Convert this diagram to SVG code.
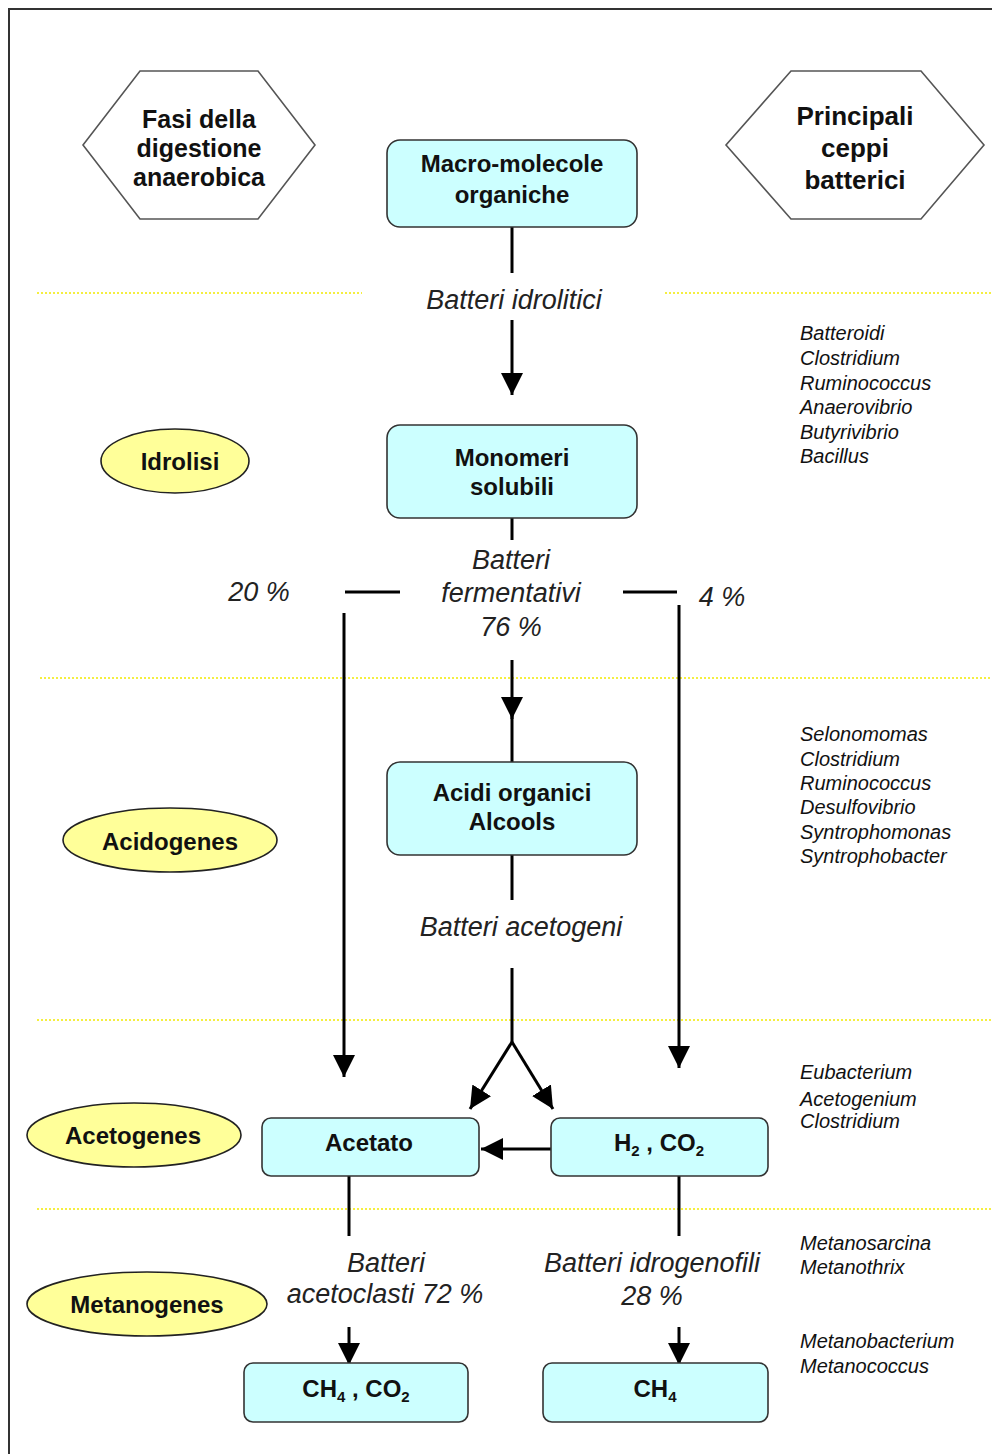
<svg xmlns="http://www.w3.org/2000/svg" width="992" height="1454" viewBox="0 0 992 1454">
<defs>
<style>
.box{fill:#ccffff;stroke:#333;stroke-width:1.6}
.ell{fill:#ffff99;stroke:#222;stroke-width:1.6}
.hex{fill:#fff;stroke:#555;stroke-width:1.6}
.b{font-family:"Liberation Sans",Arial,sans-serif;font-weight:bold;font-size:24px;fill:#111;text-anchor:middle}
.i{font-family:"Liberation Sans",Arial,sans-serif;font-style:italic;font-size:27px;fill:#222;text-anchor:middle}
.sp{font-family:"Liberation Sans",Arial,sans-serif;font-style:italic;font-size:20px;fill:#111}
.dot{stroke:#f2ea00;stroke-width:1.6;stroke-dasharray:2 2;fill:none}
.ln{stroke:#000;stroke-width:3;fill:none}
.sub{font-size:15px}
</style>
<marker id="arr" viewBox="0 0 22 22" refX="22" refY="11" markerWidth="22" markerHeight="22" markerUnits="userSpaceOnUse" orient="auto">
<path d="M0,0 L22,11 L0,22 z" fill="#000"/>
</marker>
</defs>
<rect x="0" y="0" width="992" height="1454" fill="#fff"/>
<rect x="9" y="9" width="1010" height="1470" fill="none" stroke="#333" stroke-width="2"/>

<g id="separators">
<line class="dot" x1="37" y1="293" x2="362" y2="293"/>
<line class="dot" x1="665" y1="293" x2="992" y2="293"/>
<line class="dot" x1="40" y1="678" x2="992" y2="678"/>
<line class="dot" x1="37" y1="1020" x2="992" y2="1020"/>
<line class="dot" x1="37" y1="1209" x2="992" y2="1209"/>
</g>

<g id="hex-fasi">
<polygon class="hex" points="140,71 258,71 315,145 258,219 140,219 83,145"/>
<text class="b" x="199" y="128" style="font-size:25px">Fasi della</text>
<text class="b" x="199" y="157" style="font-size:25px">digestione</text>
<text class="b" x="199" y="186" style="font-size:25px">anaerobica</text>
</g>
<g id="hex-ceppi">
<polygon class="hex" points="791,71 921,71 984,145 921,219 791,219 726,145"/>
<text class="b" x="855" y="125" style="font-size:26px">Principali</text>
<text class="b" x="855" y="157" style="font-size:26px">ceppi</text>
<text class="b" x="855" y="189" style="font-size:26px">batterici</text>
</g>

<g id="connectors">
<line class="ln" x1="512" y1="227" x2="512" y2="273"/>
<line class="ln" x1="512" y1="320" x2="512" y2="395" marker-end="url(#arr)"/>
<line class="ln" x1="512" y1="518" x2="512" y2="540"/>
<line class="ln" x1="345" y1="592" x2="400" y2="592"/>
<line class="ln" x1="623" y1="592" x2="677" y2="592"/>
<line class="ln" x1="344" y1="613" x2="344" y2="1077" marker-end="url(#arr)"/>
<line class="ln" x1="679" y1="605" x2="679" y2="1068" marker-end="url(#arr)"/>
<line class="ln" x1="512" y1="660" x2="512" y2="719" marker-end="url(#arr)"/>
<line class="ln" x1="512" y1="715" x2="512" y2="762"/>
<line class="ln" x1="512" y1="855" x2="512" y2="900"/>
<line class="ln" x1="512" y1="968" x2="512" y2="1042"/>
<line class="ln" x1="512" y1="1042" x2="470" y2="1109" marker-end="url(#arr)"/>
<line class="ln" x1="512" y1="1042" x2="553" y2="1109" marker-end="url(#arr)"/>
<line class="ln" x1="551" y1="1149" x2="481" y2="1149" marker-end="url(#arr)"/>
<line class="ln" x1="349" y1="1176" x2="349" y2="1236"/>
<line class="ln" x1="349" y1="1327" x2="349" y2="1365" marker-end="url(#arr)"/>
<line class="ln" x1="679" y1="1176" x2="679" y2="1236"/>
<line class="ln" x1="679" y1="1327" x2="679" y2="1365" marker-end="url(#arr)"/>
</g>

<g id="labels">
<text class="i" x="514" y="309">Batteri idrolitici</text>
<text class="i" x="511" y="569">Batteri</text>
<text class="i" x="511" y="602">fermentativi</text>
<text class="i" x="511" y="636">76 %</text>
<text class="i" x="259" y="601">20 %</text>
<text class="i" x="722" y="606">4 %</text>
<text class="i" x="521" y="936">Batteri acetogeni</text>
<text class="i" x="386" y="1272">Batteri</text>
<text class="i" x="385" y="1303">acetoclasti 72 %</text>
<text class="i" x="652" y="1272">Batteri idrogenofili</text>
<text class="i" x="652" y="1305">28 %</text>
</g>

<g id="node-macro">
<rect class="box" x="387" y="140" width="250" height="87" rx="13"/>
<text class="b" x="512" y="172">Macro-molecole</text>
<text class="b" x="512" y="203">organiche</text>
</g>
<g id="node-monomeri">
<rect class="box" x="387" y="425" width="250" height="93" rx="13"/>
<text class="b" x="512" y="466">Monomeri</text>
<text class="b" x="512" y="495">solubili</text>
</g>
<g id="node-acidi">
<rect class="box" x="387" y="762" width="250" height="93" rx="13"/>
<text class="b" x="512" y="801">Acidi organici</text>
<text class="b" x="512" y="830">Alcools</text>
</g>
<g id="node-acetato">
<rect class="box" x="262" y="1118" width="217" height="58" rx="9"/>
<text class="b" x="369" y="1151">Acetato</text>
</g>
<g id="node-h2co2">
<rect class="box" x="551" y="1118" width="217" height="58" rx="9"/>
<text class="b" x="659" y="1151">H<tspan class="sub" dy="5">2</tspan><tspan dy="-5"> , CO</tspan><tspan class="sub" dy="5">2</tspan></text>
</g>
<g id="node-ch4co2">
<rect class="box" x="244" y="1363" width="224" height="59" rx="9"/>
<text class="b" x="356" y="1397">CH<tspan class="sub" dy="5">4</tspan><tspan dy="-5"> , CO</tspan><tspan class="sub" dy="5">2</tspan></text>
</g>
<g id="node-ch4">
<rect class="box" x="543" y="1363" width="225" height="59" rx="9"/>
<text class="b" x="655" y="1397">CH<tspan class="sub" dy="5">4</tspan></text>
</g>

<g id="phase-idrolisi">
<ellipse class="ell" cx="175" cy="461" rx="74" ry="32"/>
<text class="b" x="180" y="470">Idrolisi</text>
</g>
<g id="phase-acidogenes">
<ellipse class="ell" cx="170" cy="840" rx="107" ry="32"/>
<text class="b" x="170" y="850">Acidogenes</text>
</g>
<g id="phase-acetogenes">
<ellipse class="ell" cx="134" cy="1135" rx="107" ry="32"/>
<text class="b" x="133" y="1144">Acetogenes</text>
</g>
<g id="phase-metanogenes">
<ellipse class="ell" cx="147" cy="1304" rx="120" ry="32"/>
<text class="b" x="147" y="1313">Metanogenes</text>
</g>

<g id="species-idrolisi">
<text class="sp" x="800" y="340">Batteroidi</text>
<text class="sp" x="800" y="365">Clostridium</text>
<text class="sp" x="800" y="390">Ruminococcus</text>
<text class="sp" x="800" y="414">Anaerovibrio</text>
<text class="sp" x="800" y="439">Butyrivibrio</text>
<text class="sp" x="800" y="463">Bacillus</text>
</g>
<g id="species-acidogenes">
<text class="sp" x="800" y="741">Selonomomas</text>
<text class="sp" x="800" y="766">Clostridium</text>
<text class="sp" x="800" y="790">Ruminococcus</text>
<text class="sp" x="800" y="814">Desulfovibrio</text>
<text class="sp" x="800" y="839">Syntrophomonas</text>
<text class="sp" x="800" y="863">Syntrophobacter</text>
</g>
<g id="species-acetogenes">
<text class="sp" x="800" y="1079">Eubacterium</text>
<text class="sp" x="800" y="1106">Acetogenium</text>
<text class="sp" x="800" y="1128">Clostridium</text>
</g>
<g id="species-metanogenes">
<text class="sp" x="800" y="1250">Metanosarcina</text>
<text class="sp" x="800" y="1274">Metanothrix</text>
<text class="sp" x="800" y="1348">Metanobacterium</text>
<text class="sp" x="800" y="1373">Metanococcus</text>
</g>
</svg>
